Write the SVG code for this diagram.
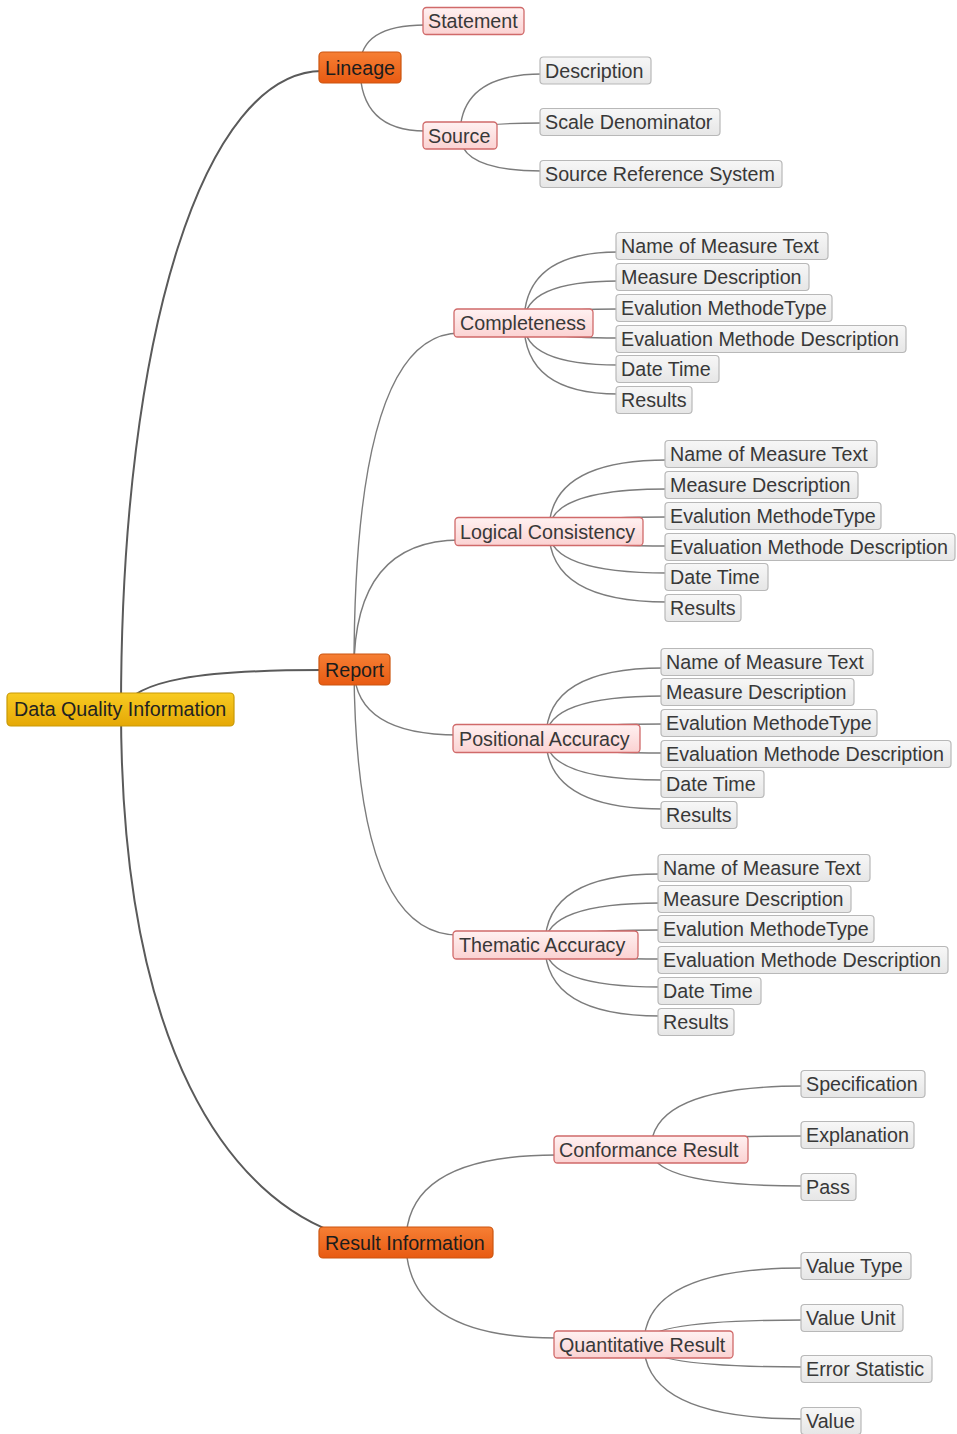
<svg xmlns="http://www.w3.org/2000/svg" width="957" height="1434" viewBox="0 0 957 1434">
<defs>
<linearGradient id="gY" x1="0" y1="0" x2="0" y2="1"><stop offset="0" stop-color="#f8cb22"/><stop offset="1" stop-color="#e5a806"/></linearGradient>
<linearGradient id="gO" x1="0" y1="0" x2="0" y2="1"><stop offset="0" stop-color="#f67f34"/><stop offset="1" stop-color="#e85a12"/></linearGradient>
<linearGradient id="gP" x1="0" y1="0" x2="0" y2="1"><stop offset="0" stop-color="#fff1f1"/><stop offset="1" stop-color="#fbd2d2"/></linearGradient>
<linearGradient id="gG" x1="0" y1="0" x2="0" y2="1"><stop offset="0" stop-color="#f7f7f7"/><stop offset="1" stop-color="#e6e6e6"/></linearGradient>
</defs>
<style>
text{font-family:"Liberation Sans",Arial,sans-serif;font-size:19.7px;fill:#383838}
.root rect{fill:url(#gY);stroke:#c99a06;stroke-width:1.2}
.root text{fill:#222}
.main rect{fill:url(#gO);stroke:#cc5510;stroke-width:1.2}
.main text{fill:#1c1c1c}
.sub rect{fill:url(#gP);stroke:#d06a6a;stroke-width:1.3}
.leaf rect{fill:url(#gG);stroke:#b8b8b8;stroke-width:1.2}
#connectors path{fill:none}
.c0{stroke:#5a5a5a;stroke-width:2}
.c1{stroke:#7c7c7c;stroke-width:1.4}
</style>
<rect width="957" height="1434" fill="#ffffff"/>
<g id="connectors">
<path class="c0" d="M121,709 C121,330 205,72 322,71"/>
<path class="c0" d="M121,709 C136,680 200,670 322,670"/>
<path class="c0" d="M121,709 C121,1050 230,1200 345,1236"/>
<path class="c1" d="M360,67 Q360,25 425,25"/>
<path class="c1" d="M360,67 Q360,131 425,131"/>
<path class="c1" d="M460,135 Q460,74 542,74"/>
<path class="c1" d="M460,135 Q460,123 542,123"/>
<path class="c1" d="M460,135 Q460,171 542,171"/>
<path class="c1" d="M354,670 Q354,333 460,333"/>
<path class="c1" d="M354,670 Q354,540 460,540"/>
<path class="c1" d="M354,670 Q356,735 458,735"/>
<path class="c1" d="M354,670 Q356,935 458,935"/>
<path class="c1" d="M524,323 Q524,252 618,252"/>
<path class="c1" d="M524,323 Q524,281 618,281"/>
<path class="c1" d="M524,323 Q524,309 618,309"/>
<path class="c1" d="M524,323 Q524,338 618,338"/>
<path class="c1" d="M524,323 Q524,365 618,365"/>
<path class="c1" d="M524,323 Q524,394 618,394"/>
<path class="c1" d="M549,531 Q549,460 667,460"/>
<path class="c1" d="M549,531 Q549,489 667,489"/>
<path class="c1" d="M549,531 Q549,517 667,517"/>
<path class="c1" d="M549,531 Q549,546 667,546"/>
<path class="c1" d="M549,531 Q549,573 667,573"/>
<path class="c1" d="M549,531 Q549,602 667,602"/>
<path class="c1" d="M546,738 Q546,668 663,668"/>
<path class="c1" d="M546,738 Q546,696 663,696"/>
<path class="c1" d="M546,738 Q546,724 663,724"/>
<path class="c1" d="M546,738 Q546,753 663,753"/>
<path class="c1" d="M546,738 Q546,780 663,780"/>
<path class="c1" d="M546,738 Q546,809 663,809"/>
<path class="c1" d="M545,945 Q545,874 660,874"/>
<path class="c1" d="M545,945 Q545,903 660,903"/>
<path class="c1" d="M545,945 Q545,930 660,930"/>
<path class="c1" d="M545,945 Q545,959 660,959"/>
<path class="c1" d="M545,945 Q545,987 660,987"/>
<path class="c1" d="M545,945 Q545,1016 660,1016"/>
<path class="c1" d="M406,1242 Q406,1155 556,1155"/>
<path class="c1" d="M406,1242 Q406,1338 556,1338"/>
<path class="c1" d="M651,1149 Q651,1086 803,1086"/>
<path class="c1" d="M651,1149 Q651,1136 803,1136"/>
<path class="c1" d="M651,1149 Q651,1186 803,1186"/>
<path class="c1" d="M644,1344 Q644,1268 803,1268"/>
<path class="c1" d="M644,1344 Q644,1320 803,1320"/>
<path class="c1" d="M644,1344 Q644,1367 803,1367"/>
<path class="c1" d="M644,1344 Q644,1419 803,1419"/>
</g>

<g id="root" class="root"><rect x="7" y="693" width="227" height="33" rx="4"/><text x="14" y="716">Data Quality Information</text></g>

<g id="lineage" class="main"><rect x="319" y="52" width="82" height="31" rx="4"/><text x="325" y="74.5">Lineage</text></g>
<g id="statement" class="sub"><rect x="423" y="7.5" width="101" height="27" rx="3.5"/><text x="428" y="28">Statement</text></g>
<g id="source" class="sub"><rect x="423" y="122" width="74" height="27" rx="3.5"/><text x="428" y="142.5">Source</text></g>
<g id="description" class="leaf"><rect x="540" y="57" width="111" height="27" rx="3.5"/><text x="545" y="77.5">Description</text></g>
<g id="scale-denominator" class="leaf"><rect x="540" y="108.5" width="180" height="27" rx="3.5"/><text x="545" y="129">Scale Denominator</text></g>
<g id="source-reference-system" class="leaf"><rect x="540" y="160.5" width="242" height="27" rx="3.5"/><text x="545" y="181">Source Reference System</text></g>

<g id="report" class="main"><rect x="319" y="654" width="71" height="31" rx="4"/><text x="325" y="676.5">Report</text></g>

<g id="completeness" class="sub"><rect x="454" y="309" width="139" height="28" rx="3.5"/><text x="460" y="330">Completeness</text></g>
<g id="comp-name" class="leaf"><rect x="616" y="232.5" width="212" height="27" rx="3.5"/><text x="621" y="253">Name of Measure Text</text></g>
<g id="comp-measure" class="leaf"><rect x="616" y="263.5" width="193" height="27" rx="3.5"/><text x="621" y="284">Measure Description</text></g>
<g id="comp-type" class="leaf"><rect x="616" y="294.5" width="216" height="27" rx="3.5"/><text x="621" y="315">Evalution MethodeType</text></g>
<g id="comp-eval" class="leaf"><rect x="616" y="325.5" width="290" height="27" rx="3.5"/><text x="621" y="346">Evaluation Methode Description</text></g>
<g id="comp-date" class="leaf"><rect x="616" y="355.5" width="103" height="27" rx="3.5"/><text x="621" y="376">Date Time</text></g>
<g id="comp-results" class="leaf"><rect x="616" y="386.5" width="76" height="27" rx="3.5"/><text x="621" y="407">Results</text></g>

<g id="logical-consistency" class="sub"><rect x="455" y="517.5" width="188" height="28" rx="3.5"/><text x="460" y="538.5">Logical Consistency</text></g>
<g id="logic-name" class="leaf"><rect x="665" y="440.5" width="212" height="27" rx="3.5"/><text x="670" y="461">Name of Measure Text</text></g>
<g id="logic-measure" class="leaf"><rect x="665" y="471.5" width="193" height="27" rx="3.5"/><text x="670" y="492">Measure Description</text></g>
<g id="logic-type" class="leaf"><rect x="665" y="502.5" width="216" height="27" rx="3.5"/><text x="670" y="523">Evalution MethodeType</text></g>
<g id="logic-eval" class="leaf"><rect x="665" y="533.5" width="290" height="27" rx="3.5"/><text x="670" y="554">Evaluation Methode Description</text></g>
<g id="logic-date" class="leaf"><rect x="665" y="563.5" width="103" height="27" rx="3.5"/><text x="670" y="584">Date Time</text></g>
<g id="logic-results" class="leaf"><rect x="665" y="594.5" width="76" height="27" rx="3.5"/><text x="670" y="615">Results</text></g>

<g id="positional-accuracy" class="sub"><rect x="453" y="724.5" width="187" height="28" rx="3.5"/><text x="459" y="745.5">Positional Accuracy</text></g>
<g id="pos-name" class="leaf"><rect x="661" y="648.5" width="212" height="27" rx="3.5"/><text x="666" y="669">Name of Measure Text</text></g>
<g id="pos-measure" class="leaf"><rect x="661" y="678.5" width="193" height="27" rx="3.5"/><text x="666" y="699">Measure Description</text></g>
<g id="pos-type" class="leaf"><rect x="661" y="709.5" width="216" height="27" rx="3.5"/><text x="666" y="730">Evalution MethodeType</text></g>
<g id="pos-eval" class="leaf"><rect x="661" y="740.5" width="290" height="27" rx="3.5"/><text x="666" y="761">Evaluation Methode Description</text></g>
<g id="pos-date" class="leaf"><rect x="661" y="770.5" width="103" height="27" rx="3.5"/><text x="666" y="791">Date Time</text></g>
<g id="pos-results" class="leaf"><rect x="661" y="801.5" width="76" height="27" rx="3.5"/><text x="666" y="822">Results</text></g>

<g id="thematic-accuracy" class="sub"><rect x="453" y="931" width="185" height="28" rx="3.5"/><text x="459" y="952">Thematic Accuracy</text></g>
<g id="them-name" class="leaf"><rect x="658" y="854.5" width="212" height="27" rx="3.5"/><text x="663" y="875">Name of Measure Text</text></g>
<g id="them-measure" class="leaf"><rect x="658" y="885.5" width="193" height="27" rx="3.5"/><text x="663" y="906">Measure Description</text></g>
<g id="them-type" class="leaf"><rect x="658" y="915.5" width="216" height="27" rx="3.5"/><text x="663" y="936">Evalution MethodeType</text></g>
<g id="them-eval" class="leaf"><rect x="658" y="946.5" width="290" height="27" rx="3.5"/><text x="663" y="967">Evaluation Methode Description</text></g>
<g id="them-date" class="leaf"><rect x="658" y="977.5" width="103" height="27" rx="3.5"/><text x="663" y="998">Date Time</text></g>
<g id="them-results" class="leaf"><rect x="658" y="1008.5" width="76" height="27" rx="3.5"/><text x="663" y="1029">Results</text></g>

<g id="result-information" class="main"><rect x="319" y="1227" width="174" height="31" rx="4"/><text x="325" y="1249.5">Result Information</text></g>
<g id="conformance-result" class="sub"><rect x="554" y="1136" width="194" height="27" rx="3.5"/><text x="559" y="1156.5">Conformance Result</text></g>
<g id="specification" class="leaf"><rect x="801" y="1070.5" width="124" height="27" rx="3.5"/><text x="806" y="1091">Specification</text></g>
<g id="explanation" class="leaf"><rect x="801" y="1121.5" width="113" height="27" rx="3.5"/><text x="806" y="1142">Explanation</text></g>
<g id="pass" class="leaf"><rect x="801" y="1173.5" width="55" height="27" rx="3.5"/><text x="806" y="1194">Pass</text></g>
<g id="quantitative-result" class="sub"><rect x="554" y="1331" width="179" height="27" rx="3.5"/><text x="559" y="1351.5">Quantitative Result</text></g>
<g id="value-type" class="leaf"><rect x="801" y="1252.5" width="110" height="27" rx="3.5"/><text x="806" y="1273">Value Type</text></g>
<g id="value-unit" class="leaf"><rect x="801" y="1304.5" width="102" height="27" rx="3.5"/><text x="806" y="1325">Value Unit</text></g>
<g id="error-statistic" class="leaf"><rect x="801" y="1355.5" width="131" height="27" rx="3.5"/><text x="806" y="1376">Error Statistic</text></g>
<g id="value" class="leaf"><rect x="801" y="1407.5" width="60" height="27" rx="3.5"/><text x="806" y="1428">Value</text></g>
</svg>
